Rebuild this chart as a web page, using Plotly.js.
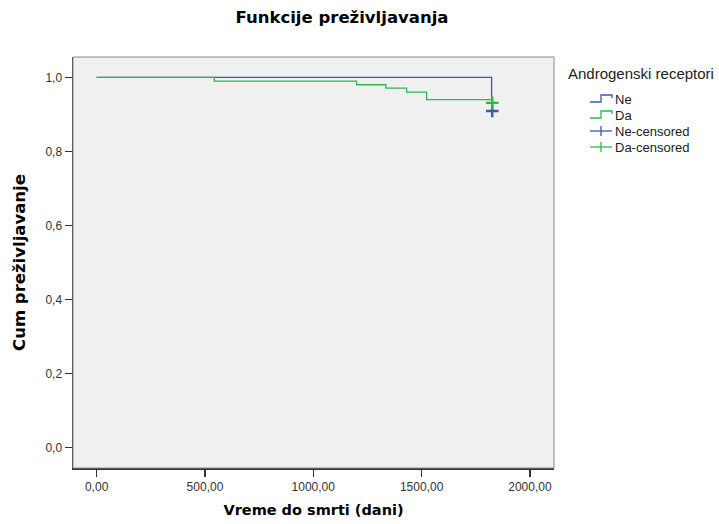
<!DOCTYPE html>
<html>
<head>
<meta charset="utf-8">
<script src="https://cdn.plot.ly/plotly-3.0.1.min.js"></script>
<style>html,body{margin:0;padding:0;background:#fff;}#chart{width:719px;height:524px;}</style>
</head>
<body>
<div id="chart"></div>
<script>
// ---- data ----
const neTime = [0, 1823];
const neSurv = [1.0, 0.909];
const daTime = [0, 543, 1200, 1335, 1431, 1523, 1823];
const daSurv = [1.0, 0.99, 0.98, 0.971, 0.96, 0.94, 0.94];
const neCensTime = [1826];
const neCensSurv = [0.909];
const daCensTime = [1826];
const daCensSurv = [0.931];
const xTicks = [0, 500, 1000, 1500, 2000];
const yTicks = [0, 0.2, 0.4, 0.6, 0.8, 1.0];
const groupNames = ['Ne', 'Da', 'Ne-censored', 'Da-censored'];

const BLUE = '#3E58AC', GREEN = '#2EB848';

const W = 719, H = 524, L = 73, R = 165, T = 57, B = 56;
const pw = W - L - R, ph = H - T - B;
const px = x => (x - L) / pw;
const py = y => (H - B - y) / ph;

const traces = [
  {x: neTime, y: neSurv, mode: 'lines', line: {shape: 'hv', color: BLUE, width: 1.3}, name: groupNames[0], hoverinfo: 'x+y'},
  {x: daTime, y: daSurv, mode: 'lines', line: {shape: 'hv', color: GREEN, width: 1.3}, name: groupNames[1], hoverinfo: 'x+y'},
  {x: neCensTime, y: neCensSurv, mode: 'markers', marker: {symbol: 'cross-thin', size: 9, line: {color: BLUE, width: 2.4}}, name: groupNames[2]},
  {x: daCensTime, y: daCensSurv, mode: 'markers', marker: {symbol: 'cross-thin', size: 9, line: {color: GREEN, width: 2.4}}, name: groupNames[3]}
];

// custom legend (step icons like the reference)
const shapes = [
  {type: 'rect', xref: 'paper', yref: 'paper', x0: 0, x1: 1, y0: 0, y1: 1, line: {color: '#8a8a8a', width: 1}, layer: 'above'}
];
const annotations = [
  {xref: 'paper', yref: 'paper', x: px(566), y: py(74), xanchor: 'left', yanchor: 'middle', text: 'Androgenski receptori', showarrow: false, font: {family: 'Liberation Sans, Arial, sans-serif', size: 15, color: '#222'}}
];
const itemY = [99, 115, 131, 147];
const itemColors = [BLUE, GREEN, BLUE, GREEN];
itemY.forEach((yy, i) => {
  const c = itemColors[i];
  if (i < 2) {
    shapes.push({type: 'path', xref: 'paper', yref: 'paper',
      path: `M ${px(590)} ${py(yy + 3)} L ${px(601)} ${py(yy + 3)} L ${px(601)} ${py(yy - 4)} L ${px(612)} ${py(yy - 4)} L ${px(612)} ${py(yy - 1)}`,
      line: {color: c, width: 1.3}});
  } else {
    shapes.push({type: 'line', xref: 'paper', yref: 'paper', x0: px(590), x1: px(612), y0: py(yy), y1: py(yy), line: {color: c, width: 1.3}});
    shapes.push({type: 'line', xref: 'paper', yref: 'paper', x0: px(601), x1: px(601), y0: py(yy - 5), y1: py(yy + 5), line: {color: c, width: 1.3}});
  }
  annotations.push({xref: 'paper', yref: 'paper', x: px(613), y: py(yy), xanchor: 'left', yanchor: 'middle', text: groupNames[i], showarrow: false, font: {family: 'Liberation Sans, Arial, sans-serif', size: 13, color: '#222'}});
});

const tickFont = {family: 'Liberation Sans, Arial, sans-serif', size: 12, color: '#333'};
const layout = {
  width: W, height: H,
  margin: {l: L, r: R, t: T, b: B, pad: 0},
  paper_bgcolor: '#ffffff',
  plot_bgcolor: '#f0f0f0',
  separators: ',.',
  showlegend: false,
  title: {text: 'Funkcije preživljavanja', x: 342 / W, xref: 'container', xanchor: 'center', y: 1 - 17 / H, yref: 'container', yanchor: 'middle',
    font: {family: 'DejaVu Sans, Verdana, sans-serif', size: 16.5, color: '#000', weight: 'bold'}},
  xaxis: {
    range: [-109, 2111], tickvals: xTicks, tickformat: '.2f',
    showgrid: false, zeroline: false, showline: true, linecolor: '#333', linewidth: 1.5,
    ticks: 'outside', ticklen: 7, tickwidth: 1.3, tickcolor: '#333', tickfont: tickFont,
    title: {text: 'Vreme do smrti (dani)', standoff: 12, font: {family: 'DejaVu Sans, Verdana, sans-serif', size: 14.5, color: '#000', weight: 'bold'}}
  },
  yaxis: {
    range: [-0.055, 1.055], tickvals: yTicks, tickformat: '.1f',
    showgrid: false, zeroline: false, showline: true, linecolor: '#333', linewidth: 1.5,
    ticks: 'outside', ticklen: 7, tickwidth: 1.3, tickcolor: '#333', tickfont: tickFont,
    title: {text: 'Cum preživljavanje', standoff: 15, font: {family: 'DejaVu Sans, Verdana, sans-serif', size: 16.5, color: '#000', weight: 'bold'}}
  },
  shapes: shapes,
  annotations: annotations
};

Plotly.newPlot('chart', traces, layout, {displayModeBar: false, staticPlot: true});
</script>
</body>
</html>
